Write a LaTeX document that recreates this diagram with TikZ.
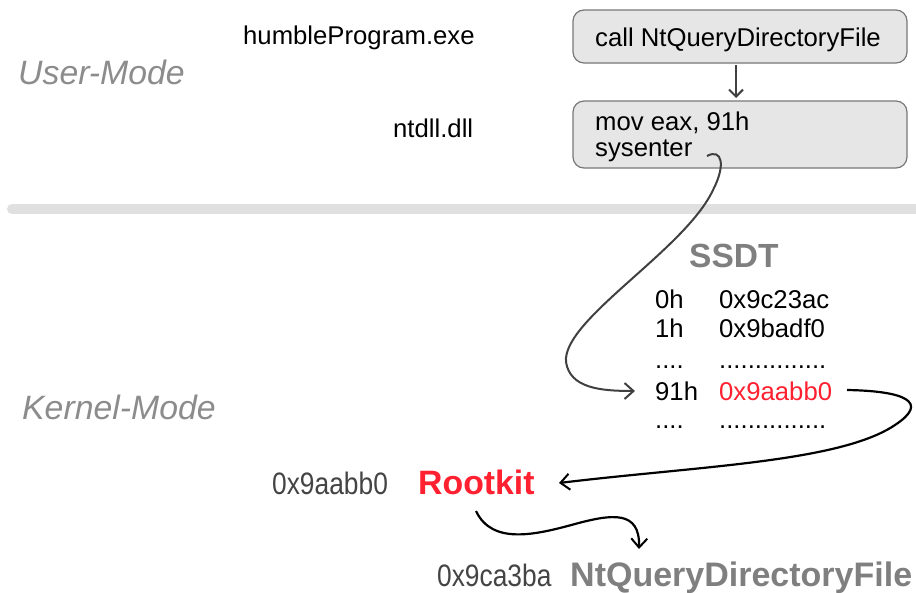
\documentclass[tikz,border=0pt]{standalone}
\usepackage{fontspec}
\setmainfont{Liberation Sans}
\usetikzlibrary{arrows.meta}
\definecolor{boxfill}{HTML}{E6E6E6}
\definecolor{boxline}{HTML}{787878}
\definecolor{modegray}{HTML}{8C8C8C}
\definecolor{titlegray}{HTML}{7F7F7F}
\definecolor{addrgray}{HTML}{444444}
\definecolor{hotred}{HTML}{FF2030}
\definecolor{bargray}{HTML}{E0E0E0}
\definecolor{curvegray}{HTML}{404040}
\begin{document}
\begin{tikzpicture}[x=1pt,y=-1pt,
  txt/.style={inner sep=0pt, anchor=base west, font=\fontsize{25.7}{30}\selectfont},
  modelabel/.style={inner sep=0pt, anchor=base west, text=modegray, font=\fontsize{33.8}{38}\selectfont\itshape},
  addr/.style={inner sep=0pt, anchor=base west, text=addrgray, font=\fontsize{31}{36}\selectfont, xscale=0.85},
  codebox/.style={draw=boxline, fill=boxfill, line width=1.2pt, rounded corners=11pt},
  barb/.style={-{Straight Barb[length=9pt,width=16pt,line width=2pt]}},
]
\useasboundingbox (0,0) rectangle (916,592);

% separator bar
\draw[bargray, line width=10pt, line cap=round] (12,209) -- (930,209);

% mode labels
\node[modelabel] (user) at (18,84) {User-Mode};
\node[modelabel] (kernel) at (22,419) {Kernel-Mode};

% module labels
\node[txt] (humble) at (243,44) {humbleProgram.exe};
\node[txt] (ntdll) at (393,137) {ntdll.dll};

% code boxes
\draw[codebox] (573,10) rectangle (907,63);
\node[txt] (call) at (595,46) {call NtQueryDirectoryFile};
\coordinate (b1bot) at (736,65);
\draw[codebox] (573,101) rectangle (907,168);
\coordinate (b2top) at (736,98);
\node[txt] (mov) at (595,130) {mov eax, 91h};
\node[txt] (sysenter) at (595,156) {sysenter};
\draw[curvegray, line width=2pt, -{Straight Barb[length=7pt,width=14pt,line width=2pt]}] (b1bot) -- (b2top);

% SSDT
\node[inner sep=0pt, anchor=base west, text=titlegray, font=\fontsize{33.5}{38}\selectfont\bfseries] (ssdt) at (689,267) {SSDT};
\node[txt] (r0a) at (655,308) {0h};
\node[txt] (r0b) at (719,308) {0x9c23ac};
\node[txt] (r1a) at (655,337) {1h};
\node[txt] (r1b) at (719,337) {0x9badf0};
\node[txt] (r2a) at (655,368) {....};
\node[txt] (r2b) at (719,368) {...............};
\node[txt] (r3a) at (655,400) {91h};
\node[txt, text=hotred] (r3b) at (719,400) {0x9aabb0};
\node[txt] (r4a) at (655,428) {....};
\node[txt] (r4b) at (719,428) {...............};

% rootkit
\node[addr] (rkaddr) at (272,494) {0x9aabb0};
\node[inner sep=0pt, anchor=base west, text=hotred, font=\fontsize{33.8}{38}\selectfont\bfseries] (rootkit) at (418,494) {Rootkit};
\node[addr] (ntaddr) at (437,586) {0x9ca3ba};
\node[inner sep=0pt, anchor=base west, text=titlegray, font=\fontsize{34}{38}\selectfont\bfseries] (ntq) at (570,586) {NtQueryDirectoryFile};

% connectors
\coordinate (c1s) at (707,156);
\coordinate (c1e) at (635,391);
\draw[curvegray, line width=2pt, barb] (c1s) .. controls (722,148) and (726,165) .. (713,190)
   .. controls (685,250) and (562,320) .. (566,362)
   .. controls (570,388) and (600,391) .. (c1e);

\coordinate (c2s) at (847,390);
\coordinate (c2e) at (559,483);
\draw[black, line width=2.2pt, barb] (c2s) .. controls (905,391) and (930,402) .. (895,425)
   .. controls (840,462) and (700,466) .. (c2e);

\coordinate (c3s) at (476,511);
\coordinate (c3e) at (639,549);
\draw[black, line width=2.2pt, barb] (c3s) .. controls (492,545) and (535,535) .. (575,524)
   .. controls (612,514) and (640,510) .. (c3e);
\end{tikzpicture}
\end{document}
